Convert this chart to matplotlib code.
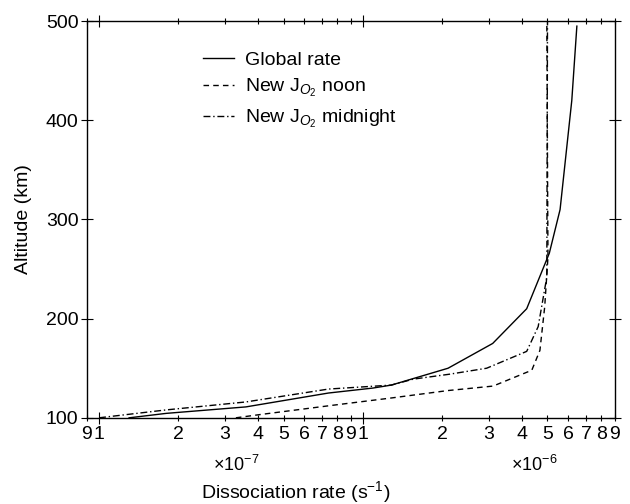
import numpy as np
import matplotlib
matplotlib.use('Agg')
import matplotlib.pyplot as plt
from matplotlib.ticker import FixedLocator, FixedFormatter

# fonts: Helvetica-like text, italic O in the subscript
plt.rcParams['font.family'] = 'Liberation Sans'
plt.rcParams['mathtext.fontset'] = 'custom'
plt.rcParams['mathtext.rm'] = 'Liberation Sans'
plt.rcParams['mathtext.it'] = 'Liberation Sans:italic'

# data (rate in s^-1, altitude in km)
global_rate = [1.3e-7, 1.8e-7, 3.6e-7, 7.4e-7, 1.09e-6, 1.28e-6, 2.1e-6,
               3.1e-6, 4.17e-6, 5.08e-6, 5.58e-6, 6.18e-6, 6.46e-6]
global_alt = [100, 104.5, 111, 125, 130, 133, 150, 175, 210, 266, 310, 420, 495]

noon_rate = [3.3e-7, 4.0e-7, 7.6e-7, 1.28e-6, 2.1e-6, 3.11e-6, 4.36e-6,
             4.68e-6, 4.88e-6, 5.02e-6, 4.97e-6]
noon_alt = [100, 103, 112.5, 120, 127.5, 132, 148, 168, 212, 262, 500]

midnight_rate = [1.0e-7, 1.8e-7, 3.6e-7, 7.4e-7, 1.28e-6, 1.55e-6, 2.13e-6,
                 2.94e-6, 4.17e-6, 4.61e-6, 4.97e-6, 5.0e-6]
midnight_alt = [100, 108, 116, 129, 133, 139, 144, 150, 167, 192, 242, 500]

major_x = [1e-7, 1e-6]
major_labels = ['1', '1']
minor_x = [9e-8] + [k * 1e-7 for k in range(2, 10)] + [k * 1e-6 for k in range(2, 10)]
minor_labels = ['9'] + [str(k) for k in range(2, 10)] + [str(k) for k in range(2, 10)]
y_ticks = [100, 200, 300, 400, 500]

fig = plt.figure(figsize=(6.3, 5.04), dpi=100)
ax = fig.add_axes([0.138, 0.171, 0.838, 0.787])

ax.plot(global_rate, global_alt, color='black', lw=1.0, label='Global rate')
ax.plot(noon_rate, noon_alt, color='black', lw=1.0, dashes=(4, 3),
        label=r'New J$_{O_2}$ noon')
ax.plot(midnight_rate, midnight_alt, color='black', lw=1.0,
        dashes=(5, 2, 1, 2), label=r'New J$_{O_2}$ midnight')

ax.set_xscale('log')
ax.set_xlim(9e-8, 9e-6)
ax.set_ylim(100, 500)

ax.xaxis.set_major_locator(FixedLocator(major_x))
ax.xaxis.set_major_formatter(FixedFormatter(major_labels))
ax.xaxis.set_minor_locator(FixedLocator(minor_x))
ax.xaxis.set_minor_formatter(FixedFormatter(minor_labels))
ax.set_yticks(y_ticks)

ax.tick_params(which='both', direction='inout', top=True, right=True,
               labelsize=14, width=0.8)
ax.tick_params(which='major', length=8, pad=2)
ax.tick_params(axis='x', which='minor', length=5, pad=3.5)

for s in ax.spines.values():
    s.set_linewidth(1.0)

# exponent markers under the decades
ax.text(0.282, -0.118, r'$\times$10$^{-7}$', transform=ax.transAxes,
        ha='center', va='center', fontsize=13)
ax.text(0.848, -0.118, r'$\times$10$^{-6}$', transform=ax.transAxes,
        ha='center', va='center', fontsize=13)

ax.set_xlabel(r'Dissociation rate (s$^{-1}$)', fontsize=14)
ax.xaxis.set_label_coords(0.395, -0.155)
ax.set_ylabel('Altitude (km)', fontsize=14)
ax.yaxis.set_label_coords(-0.105, 0.5)

ax.legend(loc='upper left', bbox_to_anchor=(0.22, 0.925), frameon=False,
          fontsize=14, handlelength=1.6, handletextpad=0.55,
          labelspacing=0.45, borderpad=0, borderaxespad=0)

plt.savefig('out.png', dpi=100)
